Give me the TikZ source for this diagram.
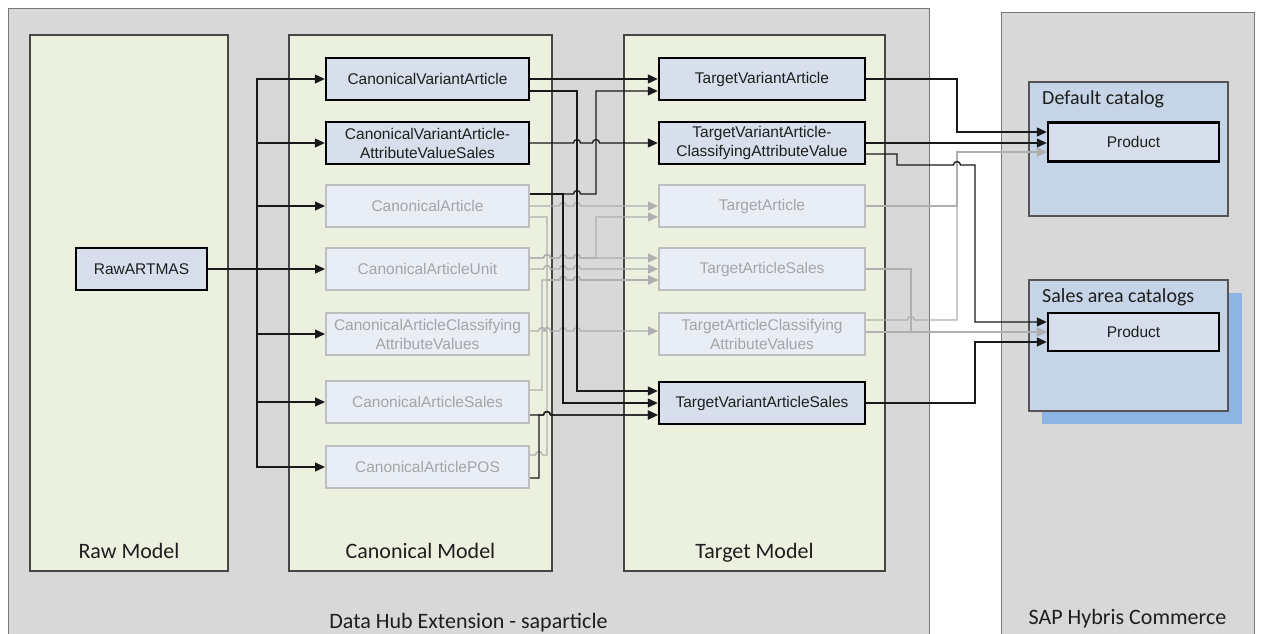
\documentclass[tikz,border=0pt]{standalone}
\usepackage{fontspec}
\setmainfont{Liberation Sans}
\newfontfamily\capfont{Carlito}
\usetikzlibrary{arrows.meta}

\definecolor{hubgray}{RGB}{216,216,216}
\definecolor{hubline}{RGB}{120,120,120}
\definecolor{panelfill}{RGB}{235,241,222}
\definecolor{panelline}{RGB}{70,70,70}
\definecolor{darkfill}{RGB}{214,223,235}
\definecolor{palefill}{RGB}{233,237,245}
\definecolor{paleline}{RGB}{190,190,190}
\definecolor{paletext}{RGB}{165,165,165}
\definecolor{inktext}{RGB}{30,30,30}
\definecolor{catfill}{RGB}{197,212,231}
\definecolor{catline}{RGB}{85,85,85}
\definecolor{catshadow}{RGB}{142,180,227}
\definecolor{wiredark}{RGB}{25,25,25}
\definecolor{wirepale}{RGB}{175,175,175}

% a small bump where a horizontal wire passes over a vertical one
\newcommand\hop[2]{-- ({#1-3.5},#2) arc[start angle=180,end angle=0,radius=3.5pt]}

\tikzset{
  hubbox/.style={fill=hubgray, draw=hubline, line width=1pt},
  panelbox/.style={fill=panelfill, draw=panelline, line width=1.2pt},
  catalogbox/.style={fill=catfill, draw=catline, line width=1.2pt},
  boxtext/.style={font=\fontsize{15.5}{19}\selectfont, align=center, inner sep=0pt},
  keybox/.style={boxtext, rectangle, draw=black, line width=2.4pt, fill=darkfill, text=inktext, minimum height=42pt},
  palebox/.style={boxtext, rectangle, draw=paleline, line width=2pt, fill=palefill, text=paletext, minimum height=42pt},
  canon/.style={minimum width=203pt},
  targ/.style={minimum width=206pt},
  wire/.style={draw=wiredark, line width=1.3pt},
  pwire/.style={draw=wirepale, line width=1.3pt},
  arrowend/.style={-{Triangle[length=10pt,width=9pt]}},
  paneltitle/.style={font=\capfont\fontsize{22}{26}\selectfont, text=inktext, inner sep=0pt, anchor=base},
  catalogtitle/.style={font=\capfont\fontsize{20}{24}\selectfont, text=inktext, inner sep=0pt, anchor=base west},
}

\begin{document}
\begin{tikzpicture}[x=1pt,y=-1pt]
\useasboundingbox (0,0) rectangle (1262,633);
\clip (0,0) rectangle (1262,633);
\fill[white] (0,0) rectangle (1262,633);

% outer containers
\draw[hubbox] (8,8) rectangle (929,660);
\draw[hubbox] (1001,12) rectangle (1254,660);

% model columns
\draw[panelbox] (30,35) rectangle (228,571);
\draw[panelbox] (289,35) rectangle (552,571);
\draw[panelbox] (624,35) rectangle (885,571);

% catalogs
\fill[catshadow] (1042,293) rectangle (1242,424);
\draw[catalogbox] (1029,280) rectangle (1228,411);
\draw[catalogbox] (1029,82) rectangle (1228,216);

% titles
\node[paneltitle] (rawtitle) at (129,558) {Raw Model};
\node[paneltitle] (cantitle) at (420.5,558) {Canonical Model};
\node[paneltitle] (tgttitle) at (754.5,558) {Target Model};
\node[paneltitle] (hubtitle) at (468.5,628) {Data Hub Extension - saparticle};
\node[paneltitle] (saptitle) at (1127.5,624) {SAP Hybris Commerce};
\node[catalogtitle] (deftitle) at (1042,104) {Default catalog};
\node[catalogtitle] (saltitle) at (1042,302) {Sales area catalogs};

% raw model
\node[keybox, minimum width=131pt] (raw) at (141.5,269) {RawARTMAS};

% canonical model
\node[keybox,canon] (cva) at (427.5,79) {CanonicalVariantArticle};
\node[keybox,canon] (cvaavs) at (427.5,143) {CanonicalVariantArticle-\\AttributeValueSales};
\node[palebox,canon] (ca) at (427.5,206) {CanonicalArticle};
\node[palebox,canon] (cau) at (427.5,269) {CanonicalArticleUnit};
\node[palebox,canon] (cacav) at (427.5,334) {CanonicalArticleClassifying\\AttributeValues};
\node[palebox,canon] (cas) at (427.5,402) {CanonicalArticleSales};
\node[palebox,canon] (cpos) at (427.5,467) {CanonicalArticlePOS};

% target model
\node[keybox,targ] (tva) at (762,79) {TargetVariantArticle};
\node[keybox,targ] (tvacav) at (762,143) {TargetVariantArticle-\\ClassifyingAttributeValue};
\node[palebox,targ] (ta) at (762,206) {TargetArticle};
\node[palebox,targ] (tas) at (762,269) {TargetArticleSales};
\node[palebox,targ] (tacav) at (762,334) {TargetArticleClassifying\\AttributeValues};
\node[keybox,targ] (tvas) at (762,403) {TargetVariantArticleSales};

% commerce products
\node[keybox, minimum width=171pt, minimum height=39pt] (prod1) at (1133.5,142) {Product};
\node[keybox, minimum width=171pt, minimum height=38pt] (prod2) at (1133.5,332) {Product};

% raw -> canonical fan-out
\foreach \t in {cva,cvaavs,ca,cau,cacav,cas,cpos}
  \draw[wire,arrowend] (raw.east) -- (257,269) |- (\t.west);

% canonical -> target, inactive mappings
\draw[pwire,arrowend] (ca.east) \hop{563}{206} \hop{577}{206} -- (ta.west);
\draw[pwire,arrowend] ([yshift=-11pt]ca.east) -| (547,280) \hop{563}{280} \hop{577}{280} -- ([yshift=-11pt]tas.west);
\draw[pwire,arrowend] ([yshift=12pt]cpos.east) \hop{539}{455} -- (547,455) -- (547,280) \hop{563}{280} \hop{577}{280} -- ([yshift=-11pt]tas.west);
\draw[pwire,arrowend] ([yshift=12pt]cas.east) -| (542,280) -- (547,280) \hop{563}{280} \hop{577}{280} -- ([yshift=-11pt]tas.west);
\draw[pwire,arrowend] ([yshift=11pt]cau.east) \hop{547}{258} \hop{563}{258} \hop{577}{258} -- ([yshift=11pt]tas.west);
\draw[pwire,arrowend] ([yshift=11pt]cau.east) \hop{547}{258} \hop{563}{258} \hop{577}{258} -- (596,258) |- ([yshift=-11pt]ta.west);
\draw[pwire,arrowend] (cau.east) \hop{547}{269} \hop{563}{269} \hop{577}{269} -- (tas.west);
\draw[pwire,arrowend] ([yshift=3pt]cacav.east) \hop{542}{331} \hop{547}{331} \hop{563}{331} \hop{577}{331} -- ([yshift=3pt]tacav.west);

% canonical -> target, active mappings
\draw[wire,arrowend] (cva.east) -- (tva.west);
\draw[wire,arrowend] ([yshift=-12pt]cva.east) -| (577,391) -- ([yshift=12pt]tvas.west);
\draw[wire,arrowend] (cvaavs.east) \hop{577}{143} \hop{596}{143} -- (tvacav.west);
\draw[wire,arrowend] ([yshift=12pt]ca.east) \hop{577}{194} -- (596,194) -- (596,91) -- ([yshift=-12pt]tva.west);
\draw[wire,arrowend] ([yshift=12pt]ca.east) -| (563,403) -- (tvas.west);
\draw[wire,arrowend] ([yshift=-13pt]cas.east) \hop{547}{415} -- ([yshift=-12pt]tvas.west);
\draw[wire,arrowend] ([yshift=-11pt]cpos.east) -| (539,415) \hop{547}{415} -- ([yshift=-12pt]tvas.west);

% target -> commerce, inactive
\draw[pwire,arrowend] (ta.east) -| (957,152) -- ([yshift=-10pt]prod1.west);
\draw[pwire,arrowend] ([yshift=14pt]tacav.east) \hop{911}{320} -- (957,320) |- ([yshift=-10pt]prod1.west);
\draw[pwire,arrowend] (tas.east) -| (911,332) -- (prod2.west);
\draw[pwire,arrowend] ([yshift=2pt]tacav.east) -- (prod2.west);

% target -> commerce, active
\draw[wire,arrowend] (tva.east) -| (957,132) -- ([yshift=10pt]prod1.west);
\draw[wire,arrowend] (tvacav.east) -- (tvacav.east -| prod1.west);
\draw[wire,arrowend] ([yshift=-11pt]tvacav.east) -| (897,165) \hop{957}{165} -- (975,165) |- ([yshift=10pt]prod2.west);
\draw[wire,arrowend] (tvas.east) -| (975,342) -- ([yshift=-10pt]prod2.west);
\end{tikzpicture}
\end{document}
